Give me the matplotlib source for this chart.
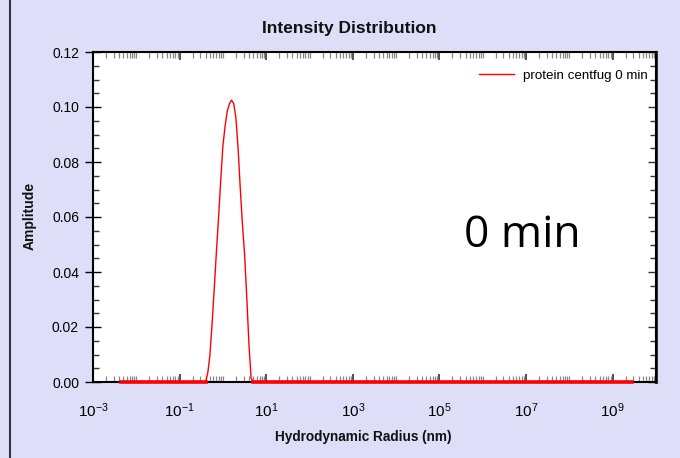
import numpy as np
import matplotlib
matplotlib.use("Agg")
import matplotlib.pyplot as plt
from matplotlib.ticker import FixedLocator, FixedFormatter, LogLocator, NullFormatter, MultipleLocator
from matplotlib.lines import Line2D

# Intensity distribution: hydrodynamic radius (nm) vs amplitude
log_radius = [-2.36, -0.40, -0.35, -0.30, -0.25, -0.20, -0.15, -0.10, -0.05,
              0.00, 0.05, 0.10, 0.15, 0.20, 0.25, 0.30, 0.35, 0.40, 0.45,
              0.50, 0.55, 0.60, 0.65, 0.70, 9.45]
amplitude = [0.0, 0.0, 0.0033, 0.0098, 0.0213, 0.0340, 0.0475, 0.0600, 0.0735,
             0.0860, 0.0930, 0.0985, 0.1012, 0.1025, 0.1012, 0.0960, 0.0850,
             0.0705, 0.0575, 0.0465, 0.0310, 0.0140, 0.0015, 0.0, 0.0]
radius = [10.0 ** v for v in log_radius]

series_label = "protein centfug 0 min"
title = "Intensity Distribution"
x_label = "Hydrodynamic Radius (nm)"
y_label = "Amplitude"
annotation = "0 min"
x_tick_exponents = [-3, -1, 1, 3, 5, 7, 9]
x_tick_labels = [r"$10^{%d}$" % e for e in x_tick_exponents]
y_ticks = [0.00, 0.02, 0.04, 0.06, 0.08, 0.10, 0.12]

plt.rcParams["font.family"] = ["Liberation Sans", "DejaVu Sans"]
plt.rcParams["mathtext.default"] = "regular"

bg = "#DEDEF8"
fig = plt.figure(figsize=(6.8, 4.58), dpi=100, facecolor=bg)
ax = fig.add_axes([93 / 680, 76 / 458, (656 - 93) / 680, (382 - 52) / 458])
ax.set_facecolor("white")

ax.plot(radius, amplitude, color="#FF0000", lw=1.0, zorder=3)
# flat zero stretches drawn heavier, on top of the bottom spine
for i0, i1 in ((0, 1), (-2, -1)):
    ax.plot([radius[i0], radius[i1]], [amplitude[i0], amplitude[i1]],
            color="#FF0000", lw=2.6, zorder=3.2, clip_on=False)

ax.set_xscale("log")
ax.set_xlim(1e-3, 1e10)
ax.set_ylim(0, 0.12)

ax.xaxis.set_major_locator(FixedLocator([10.0 ** e for e in x_tick_exponents]))
ax.xaxis.set_major_formatter(FixedFormatter(x_tick_labels))
ax.xaxis.set_minor_locator(LogLocator(base=10, subs=np.arange(1, 10), numticks=100))
ax.xaxis.set_minor_formatter(NullFormatter())

ax.yaxis.set_major_locator(FixedLocator(y_ticks))
ax.yaxis.set_major_formatter(FixedFormatter(["%.2f" % v for v in y_ticks]))
ax.yaxis.set_minor_locator(MultipleLocator(0.005))

ax.tick_params(axis="x", which="major", direction="in", length=6, width=1.2,
               color="#333333", top=True, labelsize=11, pad=14)
ax.tick_params(axis="x", which="minor", direction="in", length=4, width=0.9,
               color="#888888", top=True)
ax.tick_params(axis="y", which="major", direction="inout", length=12, width=1.0,
               color="black", right=False, labelsize=10, pad=4)
ax.tick_params(axis="y", which="minor", direction="in", length=4, width=1.0,
               color="#333333", right=False)

# right-hand ticks point inward only
sec = ax.secondary_yaxis("right")
sec.yaxis.set_major_locator(FixedLocator(y_ticks))
sec.yaxis.set_minor_locator(MultipleLocator(0.005))
sec.tick_params(axis="y", which="major", direction="in", length=6, width=1.0,
                color="#333333", labelright=False)
sec.tick_params(axis="y", which="minor", direction="in", length=4, width=1.0,
                color="#333333")
sec.spines["right"].set_linewidth(2.2)
sec.spines["right"].set_color("#333333")

for side in ("left", "bottom", "top", "right"):
    ax.spines[side].set_linewidth(1.5)
    ax.spines[side].set_color("black")

fig.text(349 / 680, 1 - 28 / 458, title, ha="center", va="center",
         fontsize=12.5, fontweight="bold", color="#111111")
fig.text(363 / 680, 1 - 437 / 458, x_label, ha="center", va="center",
         fontsize=9.8, fontweight="bold", color="#111111")
fig.text(30 / 680, 1 - 216 / 458, y_label, ha="center", va="center",
         rotation=90, fontsize=10, fontweight="bold", color="#111111")

ax.text(0.763, 0.443, annotation, transform=ax.transAxes, ha="center", va="center",
        fontsize=32, family=["Open Sans", "DejaVu Sans"], color="black")

ax.legend([Line2D([0], [0], color="#FF0000", lw=1.0)], [series_label],
          loc="center right", bbox_to_anchor=(1.0, 1 - (76 - 52) / 330),
          frameon=False, fontsize=9.6, handlelength=2.6,
          handletextpad=0.7, borderaxespad=0.4, borderpad=0.2)

fig.add_artist(Line2D([9.5 / 680, 9.5 / 680], [0, 1], color="#333344", lw=1.5,
                      transform=fig.transFigure))

fig.savefig("out.png", dpi=100, facecolor=bg)
